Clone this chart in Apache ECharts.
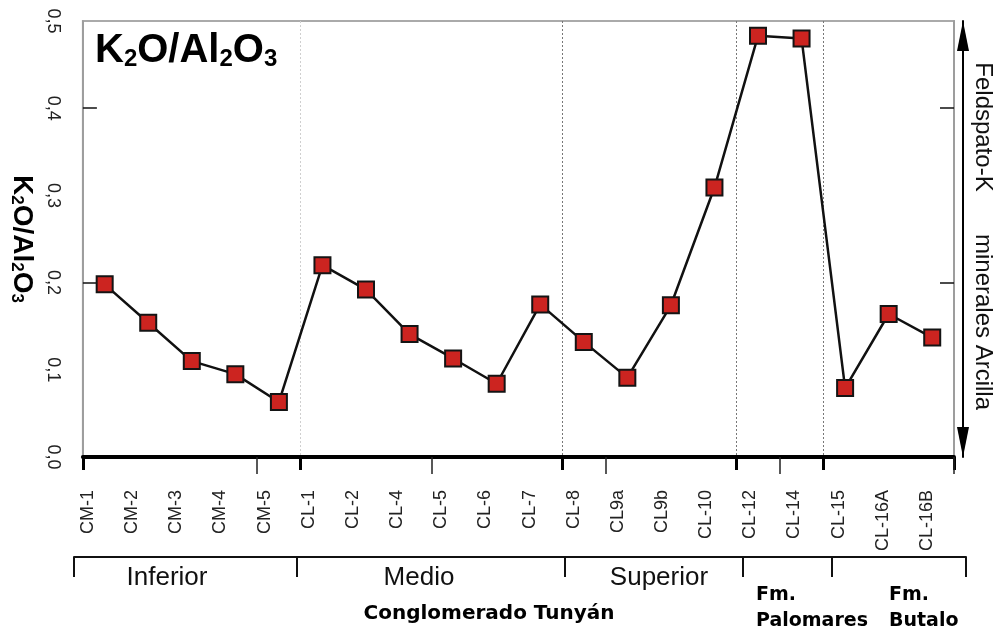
<!DOCTYPE html>
<html>
<head>
<meta charset="utf-8">
<script src="https://cdn.jsdelivr.net/npm/echarts@6/dist/echarts.min.js"></script>
<style>
  html, body { margin: 0; padding: 0; background: #fff; }
  #chart { width: 998px; height: 633px; }
</style>
</head>
<body>
<div id="chart"></div>
<script>
// muestras y razon K2O/Al2O3
const samples = ['CM-1', 'CM-2', 'CM-3', 'CM-4', 'CM-5', 'CL-1', 'CL-2', 'CL-4', 'CL-5', 'CL-6', 'CL-7',
  'CL-8', 'CL9a', 'CL9b', 'CL-10', 'CL-12', 'CL-14', 'CL-15', 'CL-16A', 'CL-16B']
const ratio = [0.198, 0.154, 0.110, 0.095, 0.063, 0.220, 0.192, 0.141, 0.113, 0.084, 0.175,
  0.132, 0.091, 0.174, 0.309, 0.483, 0.480, 0.079, 0.164, 0.137]
const yTicks = [0, 0.1, 0.2, 0.3, 0.4, 0.5]
const groupStarts = [0, 5, 11, 15, 17] // primera muestra de cada unidad
const minorStarts = [4, 8, 12, 16]
const unitNames = ['Inferior', 'Medio', 'Superior']
const formationName = 'Conglomerado Tunyán'

const SANS = '"Liberation Sans", Arial, sans-serif'
const BOLD = '"DejaVu Sans", Verdana, sans-serif'

function ratioRich (big, small, subLh) {
  return {
    m: { fontSize: big, lineHeight: big, fontWeight: 'bold', fontFamily: SANS, color: '#000' },
    s: { fontSize: small, lineHeight: subLh, fontWeight: 'bold', fontFamily: SANS, color: '#000', verticalAlign: 'bottom' }
  }
}
const ratioText = '{m|K}{s|2}{m|O/Al}{s|2}{m|O}{s|3}'

let myChart = echarts.init(document.getElementById('chart'))
let option = {
  animation: false,
  title: {
    text: ratioText,
    left: 90,
    top: 26,
    textStyle: { rich: ratioRich(40, 24, 29) }
  },
  grid: [
    { left: 80, right: 44, top: 21, bottom: 176, show: true, borderColor: '#aaa', borderWidth: 2 },
    { left: 74, right: 32, top: 500, bottom: 76 }, // corchete de unidades
    { left: 66, right: 49, top: 21, bottom: 176 } // etiquetas de muestras
  ],
  xAxis: [
    {
      type: 'category',
      gridIndex: 0,
      data: samples,
      boundaryGap: true,
      offset: 3,
      axisLine: { lineStyle: { color: '#000', width: 4 } },
      axisTick: {
        show: true,
        interval: (i) => groupStarts.includes(i),
        length: 13,
        lineStyle: { color: '#000', width: 3 }
      },
      axisLabel: { show: false },
      splitLine: {
        show: true,
        interval: (i) => i > 0 && groupStarts.includes(i),
        lineStyle: { type: [2, 2], width: 1, color: ['#cfcfcf', '#777', '#777', '#777', '#aaa'] }
      }
    },
    {
      type: 'category',
      gridIndex: 0,
      data: samples,
      boundaryGap: true,
      offset: 3,
      axisLine: { show: false },
      axisTick: {
        show: true,
        inside: true,
        interval: (i) => minorStarts.includes(i),
        length: 17,
        lineStyle: { color: '#222', width: 1.5 }
      },
      axisLabel: { show: false },
      splitLine: { show: false }
    },
    {
      type: 'category',
      gridIndex: 1,
      data: samples,
      boundaryGap: true,
      axisLine: { lineStyle: { color: '#111', width: 2 } },
      axisTick: {
        show: true,
        interval: (i) => groupStarts.includes(i),
        length: 20,
        lineStyle: { color: '#111', width: 2 }
      },
      axisLabel: { show: false },
      splitLine: { show: false }
    },
    {
      type: 'category',
      gridIndex: 2,
      data: samples,
      boundaryGap: true,
      axisLine: { show: false },
      axisTick: { show: false },
      axisLabel: {
        interval: 0,
        rotate: 90,
        margin: 33,
        fontSize: 18,
        fontFamily: SANS,
        color: '#222'
      },
      splitLine: { show: false }
    }
  ],
  yAxis: [
    {
      type: 'value',
      gridIndex: 0,
      min: 0,
      max: 0.5,
      interval: 0.1,
      name: ratioText,
      nameLocation: 'middle',
      nameRotate: -90,
      nameGap: 44,
      nameTextStyle: { rich: ratioRich(28, 17, 20) },
      axisLine: { show: true, lineStyle: { color: '#999', width: 1.5 } },
      axisTick: { show: true, inside: true, length: 14, customValues: [0.2, 0.4], lineStyle: { color: '#111', width: 1.5 } },
      axisLabel: {
        customValues: yTicks,
        rotate: -90,
        margin: 21,
        fontSize: 18,
        fontFamily: SANS,
        color: '#222',
        formatter: (v) => v.toFixed(1).replace('.', ',')
      },
      splitLine: { show: false }
    },
    {
      type: 'value',
      gridIndex: 0,
      position: 'right',
      min: 0,
      max: 0.5,
      interval: 0.1,
      axisLine: { show: true, lineStyle: { color: '#999', width: 1.5 } },
      axisTick: { show: true, inside: true, length: 14, customValues: [0.2, 0.4], lineStyle: { color: '#111', width: 1.5 } },
      axisLabel: { show: false },
      splitLine: { show: false }
    },
    {
      type: 'value',
      gridIndex: 0,
      position: 'right',
      offset: 9,
      min: 0,
      max: 0.5,
      axisLine: {
        show: true,
        symbol: ['triangle', 'triangle'],
        symbolSize: [12, 30],
        symbolOffset: [15, -15],
        lineStyle: { color: '#000', width: 2 }
      },
      axisTick: { show: false },
      axisLabel: { show: false },
      splitLine: { show: false }
    },
    { type: 'value', gridIndex: 1, show: false },
    { type: 'value', gridIndex: 2, show: false }
  ],
  graphic: [
    { type: 'text', x: 983, y: 127, rotation: -Math.PI / 2, style: { text: 'Feldspato-K', textAlign: 'center', textVerticalAlign: 'middle', font: '24px ' + SANS, fill: '#111' } },
    { type: 'text', x: 983, y: 322, rotation: -Math.PI / 2, style: { text: 'minerales Arcilla', textAlign: 'center', textVerticalAlign: 'middle', font: '24px ' + SANS, fill: '#111' } },
    { type: 'text', x: 167, y: 578, style: { text: unitNames[0], textAlign: 'center', textVerticalAlign: 'middle', font: '26px ' + SANS, fill: '#111' } },
    { type: 'text', x: 419, y: 578, style: { text: unitNames[1], textAlign: 'center', textVerticalAlign: 'middle', font: '26px ' + SANS, fill: '#111' } },
    { type: 'text', x: 659, y: 578, style: { text: unitNames[2], textAlign: 'center', textVerticalAlign: 'middle', font: '26px ' + SANS, fill: '#111' } },
    { type: 'text', x: 489, y: 614, style: { text: formationName, textAlign: 'center', textVerticalAlign: 'middle', font: 'bold 20px ' + BOLD, fill: '#000' } },
    { type: 'text', x: 756, y: 608, style: { text: 'Fm.\nPalomares', textAlign: 'left', textVerticalAlign: 'middle', lineHeight: 26, font: 'bold 19px ' + BOLD, fill: '#000' } },
    { type: 'text', x: 889, y: 608, style: { text: 'Fm.\nButalo', textAlign: 'left', textVerticalAlign: 'middle', lineHeight: 26, font: 'bold 19px ' + BOLD, fill: '#000' } }
  ],
  series: [
    {
      type: 'line',
      xAxisIndex: 0,
      yAxisIndex: 0,
      data: ratio,
      symbol: 'rect',
      symbolSize: 16,
      z: 5,
      itemStyle: { color: '#cc2420', borderColor: '#141414', borderWidth: 2 },
      lineStyle: { color: '#111', width: 2.5 }
    }
  ]
}
myChart.setOption(option)
</script>
</body>
</html>
